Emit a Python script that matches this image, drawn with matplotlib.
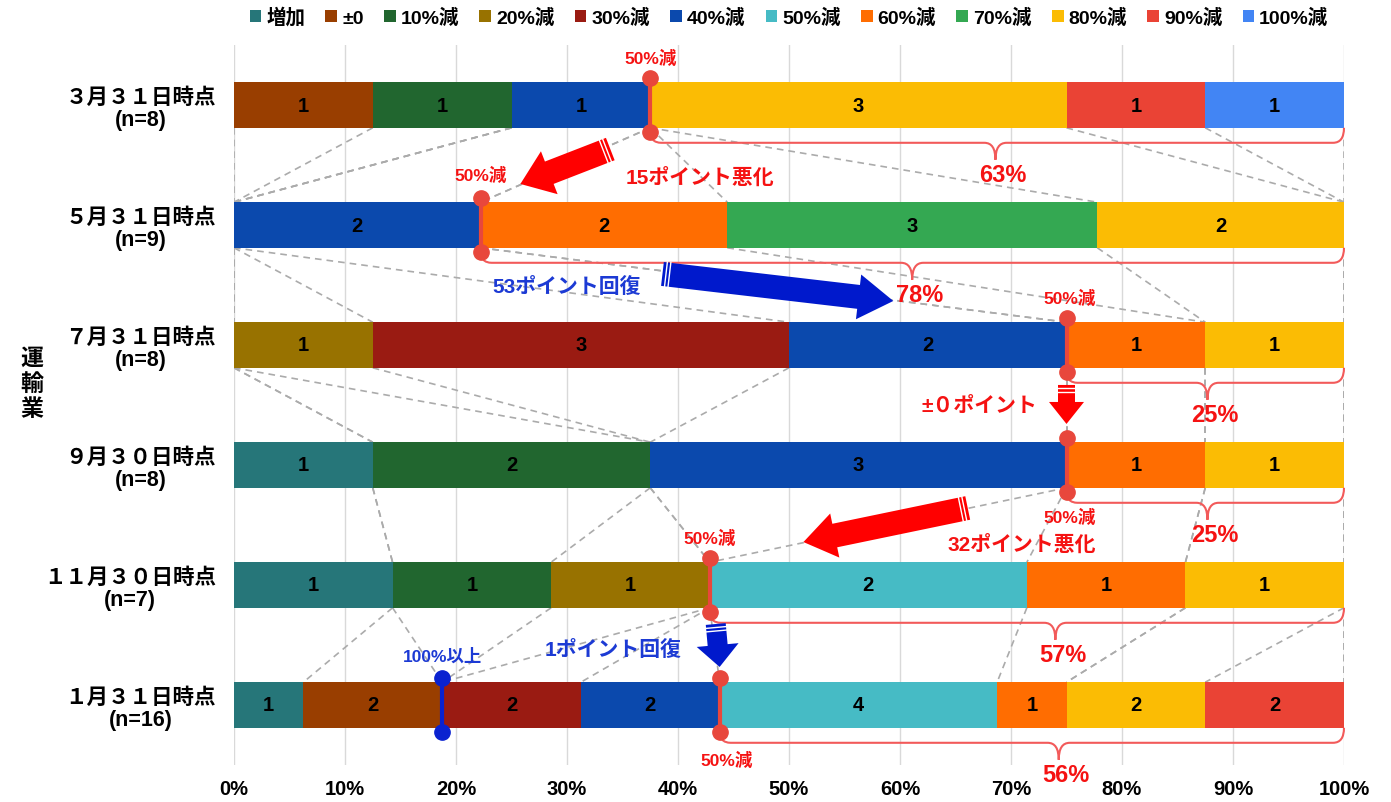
import numpy as np
import matplotlib
matplotlib.use("Agg")
import matplotlib.pyplot as plt
from matplotlib.patches import Patch, PathPatch, Polygon
from matplotlib.path import Path
from matplotlib.lines import Line2D
from matplotlib.transforms import IdentityTransform

plt.rcParams["font.family"] = ["Liberation Sans", "Noto Sans CJK JP"]

# ---- data -------------------------------------------------------------
categories = ["増加", "±0", "10%減", "20%減", "30%減", "40%減",
              "50%減", "60%減", "70%減", "80%減", "90%減", "100%減"]
colors = ["#267679", "#993e00", "#21662f", "#987200", "#9a1b12", "#0b49ad",
          "#46bbc5", "#ff6d01", "#34a852", "#fbbc04", "#ea4335", "#4285f4"]

periods = ["３月３１日時点", "５月３１日時点", "７月３１日時点",
           "９月３０日時点", "１１月３０日時点", "１月３１日時点"]

# number of companies per category, one list per survey date
mar31 = [0, 1, 1, 0, 0, 1, 0, 0, 0, 3, 1, 1]
may31 = [0, 0, 0, 0, 0, 2, 0, 2, 3, 2, 0, 0]
jul31 = [0, 0, 0, 1, 3, 2, 0, 1, 0, 1, 0, 0]
sep30 = [1, 0, 2, 0, 0, 3, 0, 1, 0, 1, 0, 0]
nov30 = [1, 0, 1, 1, 0, 0, 2, 1, 0, 1, 0, 0]
jan31 = [1, 2, 0, 0, 2, 2, 4, 1, 0, 2, 2, 0]

industry = "運輸業"
severe_from = categories.index("50%減")   # first category of "50%減 or worse"
no_loss_upto = categories.index("±0")     # last category of "100%以上"

# ---- derived values ---------------------------------------------------
counts = np.array([mar31, may31, jul31, sep30, nov30, jan31], dtype=float)
n = counts.sum(axis=1)
shares = counts / n[:, None] * 100
cum = np.cumsum(shares, axis=1)
left = cum - shares
severe_share = shares[:, severe_from:].sum(axis=1)
severe_pct = [int(v + 0.5) for v in severe_share]
severe_edge = 100 - severe_share
no_loss_edge = shares[:, :no_loss_upto + 1].sum(axis=1)

# ---- figure -----------------------------------------------------------
W, H, DPI = 1391, 803, 100
fig = plt.figure(figsize=(W / DPI, H / DPI), dpi=DPI)
ax = fig.add_axes([234 / W, 1 - 766 / H, 1110 / W, 720 / H])
ax.set_xlim(0, 100)
ax.set_ylim(len(periods) - 0.5, -0.5)
bar_h = 0.38
rows = np.arange(len(periods))

for x in range(0, 101, 10):
    ax.axvline(x, color="#d9d9d9", lw=1.0, zorder=0)

for k, cat in enumerate(categories):
    ax.barh(rows, shares[:, k], left=left[:, k], height=bar_h,
            color=colors[k], zorder=2, label=cat)
    for i in rows:
        if counts[i, k] > 0:
            ax.text(left[i, k] + shares[i, k] / 2, i, f"{int(counts[i, k])}",
                    ha="center", va="center", fontsize=14.5,
                    fontweight="bold", color="black", zorder=5)

# series lines joining the same category boundary of consecutive bars
for i in range(len(rows) - 1):
    for k in range(len(categories)):
        ax.plot([cum[i, k], cum[i + 1, k]],
                [i + bar_h / 2, i + 1 - bar_h / 2],
                color="#ababab", lw=1.2, ls=(0, (4, 3)), zorder=1)

for s in ax.spines.values():
    s.set_visible(False)
ax.set_xticks(range(0, 101, 10))
ax.set_xticklabels([f"{v}%" for v in range(0, 101, 10)],
                   fontsize=14.5, fontweight="bold")
ax.set_yticks(rows)
ax.set_yticklabels([f"{p}\n(n={int(c)})" for p, c in zip(periods, n)],
                   fontsize=15.5, fontweight="bold", multialignment="center",
                   linespacing=1.1)
ax.tick_params(axis="x", length=0, pad=10)
ax.tick_params(axis="y", length=0, pad=13)

fig.text(32 / W, 1 - 384 / H, "\n".join(industry), ha="center", va="center",
         fontsize=16.5, fontweight="bold", linespacing=1.15)

handles = [Patch(facecolor=c, edgecolor="none") for c in colors]
fig.legend(handles, categories, loc="center",
           bbox_to_anchor=(789 / W, 1 - 18 / H), ncol=len(categories),
           frameon=False, handlelength=0.6, handleheight=0.6,
           handletextpad=0.25, columnspacing=1.05,
           prop={"size": 14, "weight": "bold"})

# ---- annotation helpers (display pixels) -------------------------------
RED_MARK = "#e8473c"
BLUE_MARK = "#0a22d0"
RED_TXT = "#f51212"
BLUE_TXT = "#1c3ad4"
RED_ARROW = "#ff0000"
BLUE_ARROW = "#0019cc"
BRACE = "#f25a5a"
ID = IdentityTransform()


def disp(x, y):
    return ax.transData.transform((x, y))


def marker(row, x, color):
    y0 = row - bar_h / 2 - 0.035
    y1 = row + bar_h / 2 + 0.035
    ax.plot([x, x], [y0, y1], color=color, lw=3, zorder=6,
            solid_capstyle="butt")
    ax.plot([x, x], [y0, y1], "o", color=color, ms=11, zorder=6)


def brace(row, x0, xm, x1, pct):
    X0 = disp(x0, row)[0]
    XM = disp(xm, row)[0]
    X1 = disp(x1, row)[0]
    yb = disp(0, row + bar_h / 2)[1]
    d, r, c, w = 15, 11, 17, 11
    yh = yb - d
    verts = [(X0, yb - 3), (X0, yh), (X0 + r, yh),
             (XM - w, yh),
             (XM, yh), (XM, yh - c),
             (XM, yh), (XM + w, yh),
             (X1 - r, yh),
             (X1, yh), (X1, yb)]
    codes = [Path.MOVETO, Path.CURVE3, Path.CURVE3,
             Path.LINETO,
             Path.CURVE3, Path.CURVE3,
             Path.CURVE3, Path.CURVE3,
             Path.LINETO,
             Path.CURVE3, Path.CURVE3]
    ax.add_patch(PathPatch(Path(verts, codes), transform=ID, fill=False,
                           edgecolor=BRACE, lw=1.5, zorder=4, clip_on=False))
    ax.text(XM + 7, yh - c - 15, f"{pct}%", transform=ID, ha="center",
            va="center", fontsize=17, fontweight="bold", color=RED_TXT,
            zorder=8)


def block_arrow(tail, tip, shaft_w, head_w, head_len, color):
    P0 = np.array(disp(*tail))
    P1 = np.array(disp(*tip))
    u = (P1 - P0) / np.linalg.norm(P1 - P0)
    nrm = np.array([-u[1], u[0]])
    neck = P1 - u * head_len
    pts = [P0 + nrm * shaft_w / 2, neck + nrm * shaft_w / 2,
           neck + nrm * head_w / 2, P1, neck - nrm * head_w / 2,
           neck - nrm * shaft_w / 2, P0 - nrm * shaft_w / 2]
    ax.add_patch(Polygon(pts, closed=True, transform=ID, facecolor=color,
                         edgecolor="none", zorder=7, clip_on=False))
    for off in (3.5, 7.0):
        a = P0 + u * off + nrm * (shaft_w / 2 + 0.5)
        b = P0 + u * off - nrm * (shaft_w / 2 + 0.5)
        ax.add_line(Line2D([a[0], b[0]], [a[1], b[1]], transform=ID,
                           color="white", lw=1.0, zorder=7.5))


def label(x, y, s, color, size):
    ax.text(x, y, s, ha="center", va="center", fontsize=size,
            fontweight="bold", color=color, zorder=8, clip_on=False)


# ---- "50%減 or worse" markers and braces ------------------------------
brace_mid = [68.6, 61.1, 87.7, 87.7, 74.0, 74.3]
tag_offset = [-0.40, -0.425, -0.40, 0.425, -0.40, 0.45]
tag_shift = [0, 0, 0.3, 0.3, 0, 0.6]
for i in rows:
    marker(i, severe_edge[i], RED_MARK)
    brace(i, severe_edge[i], brace_mid[i], 100, severe_pct[i])
    label(severe_edge[i] + tag_shift[i], i + tag_offset[i], "50%減",
          RED_TXT, 12.5)

last = len(rows) - 1
marker(last, no_loss_edge[last], BLUE_MARK)
label(no_loss_edge[last], last - 0.41, "100%以上", BLUE_TXT, 12.5)

# ---- change arrows between survey dates -------------------------------
arrows = [((33.9, 0.367), (25.8, 0.658), 24, 46, 31),
          ((38.6, 1.408), (59.4, 1.633), 24, 45, 35),
          ((severe_edge[2], 2.333), (severe_edge[3], 2.658), 17, 35, 22),
          ((66.1, 3.358), (51.3, 3.642), 24, 45, 32),
          ((43.4, 4.325), (severe_edge[5], 4.683), 20, 42, 22)]
text_pos = [(42.0, 0.60), (30.0, 1.508), (67.2, 2.508),
            (71.0, 3.658), (34.2, 4.533)]
for i, ((tail, tip, sw, hw, hl), (tx, ty)) in enumerate(zip(arrows, text_pos)):
    diff = severe_pct[i + 1] - severe_pct[i]
    if diff > 0:
        txt, col, acol = f"{diff}ポイント悪化", RED_TXT, RED_ARROW
    elif diff < 0:
        txt, col, acol = f"{-diff}ポイント回復", BLUE_TXT, BLUE_ARROW
    else:
        txt, col, acol = "±０ポイント", RED_TXT, RED_ARROW
    block_arrow(tail, tip, sw, hw, hl, acol)
    label(tx, ty, txt, col, 15)

fig.savefig("out.png", dpi=DPI)
